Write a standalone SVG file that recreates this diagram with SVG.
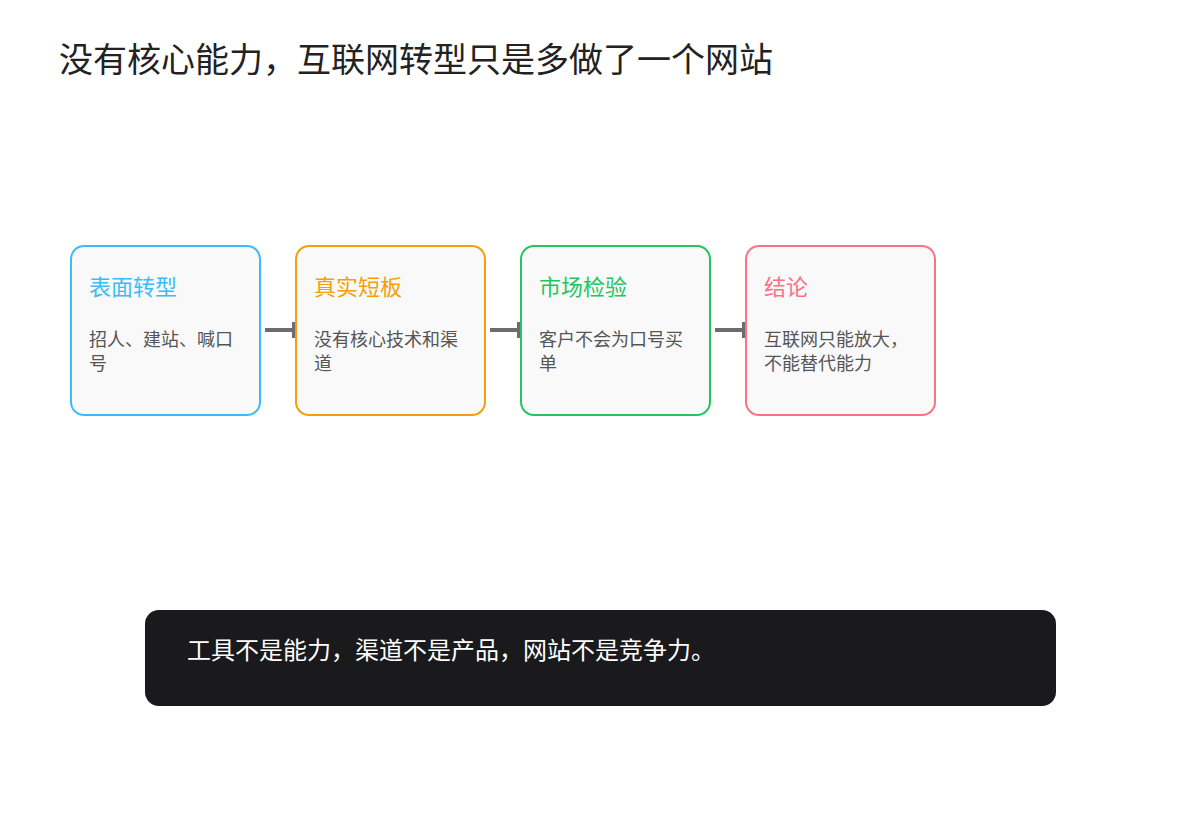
<svg xmlns="http://www.w3.org/2000/svg" width="1200" height="820" viewBox="0 0 1200 820">
<style>
text{font-family:"Noto Sans CJK SC","Liberation Sans",sans-serif}
.title{font-size:34px;fill:#222}
.box{fill:#f9f9f9;stroke-width:2}
.h{font-size:22px}
.b{font-size:18px;fill:#555}
.conn{stroke:#6b6b70;stroke-width:4;fill:none}
.foot{font-size:24px;fill:#fff}
</style>
<rect width="1200" height="820" fill="#fff"/>
<text class="title" x="59" y="72">没有核心能力，互联网转型只是多做了一个网站</text>
<g id="connectors">
<line class="conn" x1="265" y1="330" x2="294" y2="330"/>
<rect x="292" y="322" width="3" height="16" fill="#6b6b70"/>
<line class="conn" x1="490" y1="330" x2="519" y2="330"/>
<rect x="517" y="322" width="3" height="16" fill="#6b6b70"/>
<line class="conn" x1="715" y1="330" x2="744" y2="330"/>
<rect x="742" y="322" width="3" height="16" fill="#6b6b70"/>
</g>
<g id="n1">
<rect class="box" x="71" y="246" width="189" height="169" rx="13" stroke="#38bdf8"/>
<text class="h" x="89" y="295" fill="#38bdf8">表面转型</text>
<text class="b" x="89" y="346">招人、建站、喊口</text>
<text class="b" x="89" y="370">号</text>
</g>
<g id="n2">
<rect class="box" x="296" y="246" width="189" height="169" rx="13" stroke="#f59e0b"/>
<text class="h" x="314" y="295" fill="#f59e0b">真实短板</text>
<text class="b" x="314" y="346">没有核心技术和渠</text>
<text class="b" x="314" y="370">道</text>
</g>
<g id="n3">
<rect class="box" x="521" y="246" width="189" height="169" rx="13" stroke="#22c55e"/>
<text class="h" x="539" y="295" fill="#22c55e">市场检验</text>
<text class="b" x="539" y="346">客户不会为口号买</text>
<text class="b" x="539" y="370">单</text>
</g>
<g id="n4">
<rect class="box" x="746" y="246" width="189" height="169" rx="13" stroke="#fb7185"/>
<text class="h" x="764" y="295" fill="#fb7185">结论</text>
<text class="b" x="764" y="346">互联网只能放大，</text>
<text class="b" x="764" y="370">不能替代能力</text>
</g>
<g id="footer">
<rect x="145" y="610" width="911" height="96" rx="14" fill="#1a1a1c"/>
<text class="foot" x="187" y="659">工具不是能力，渠道不是产品，网站不是竞争力。</text>
</g>
</svg>
